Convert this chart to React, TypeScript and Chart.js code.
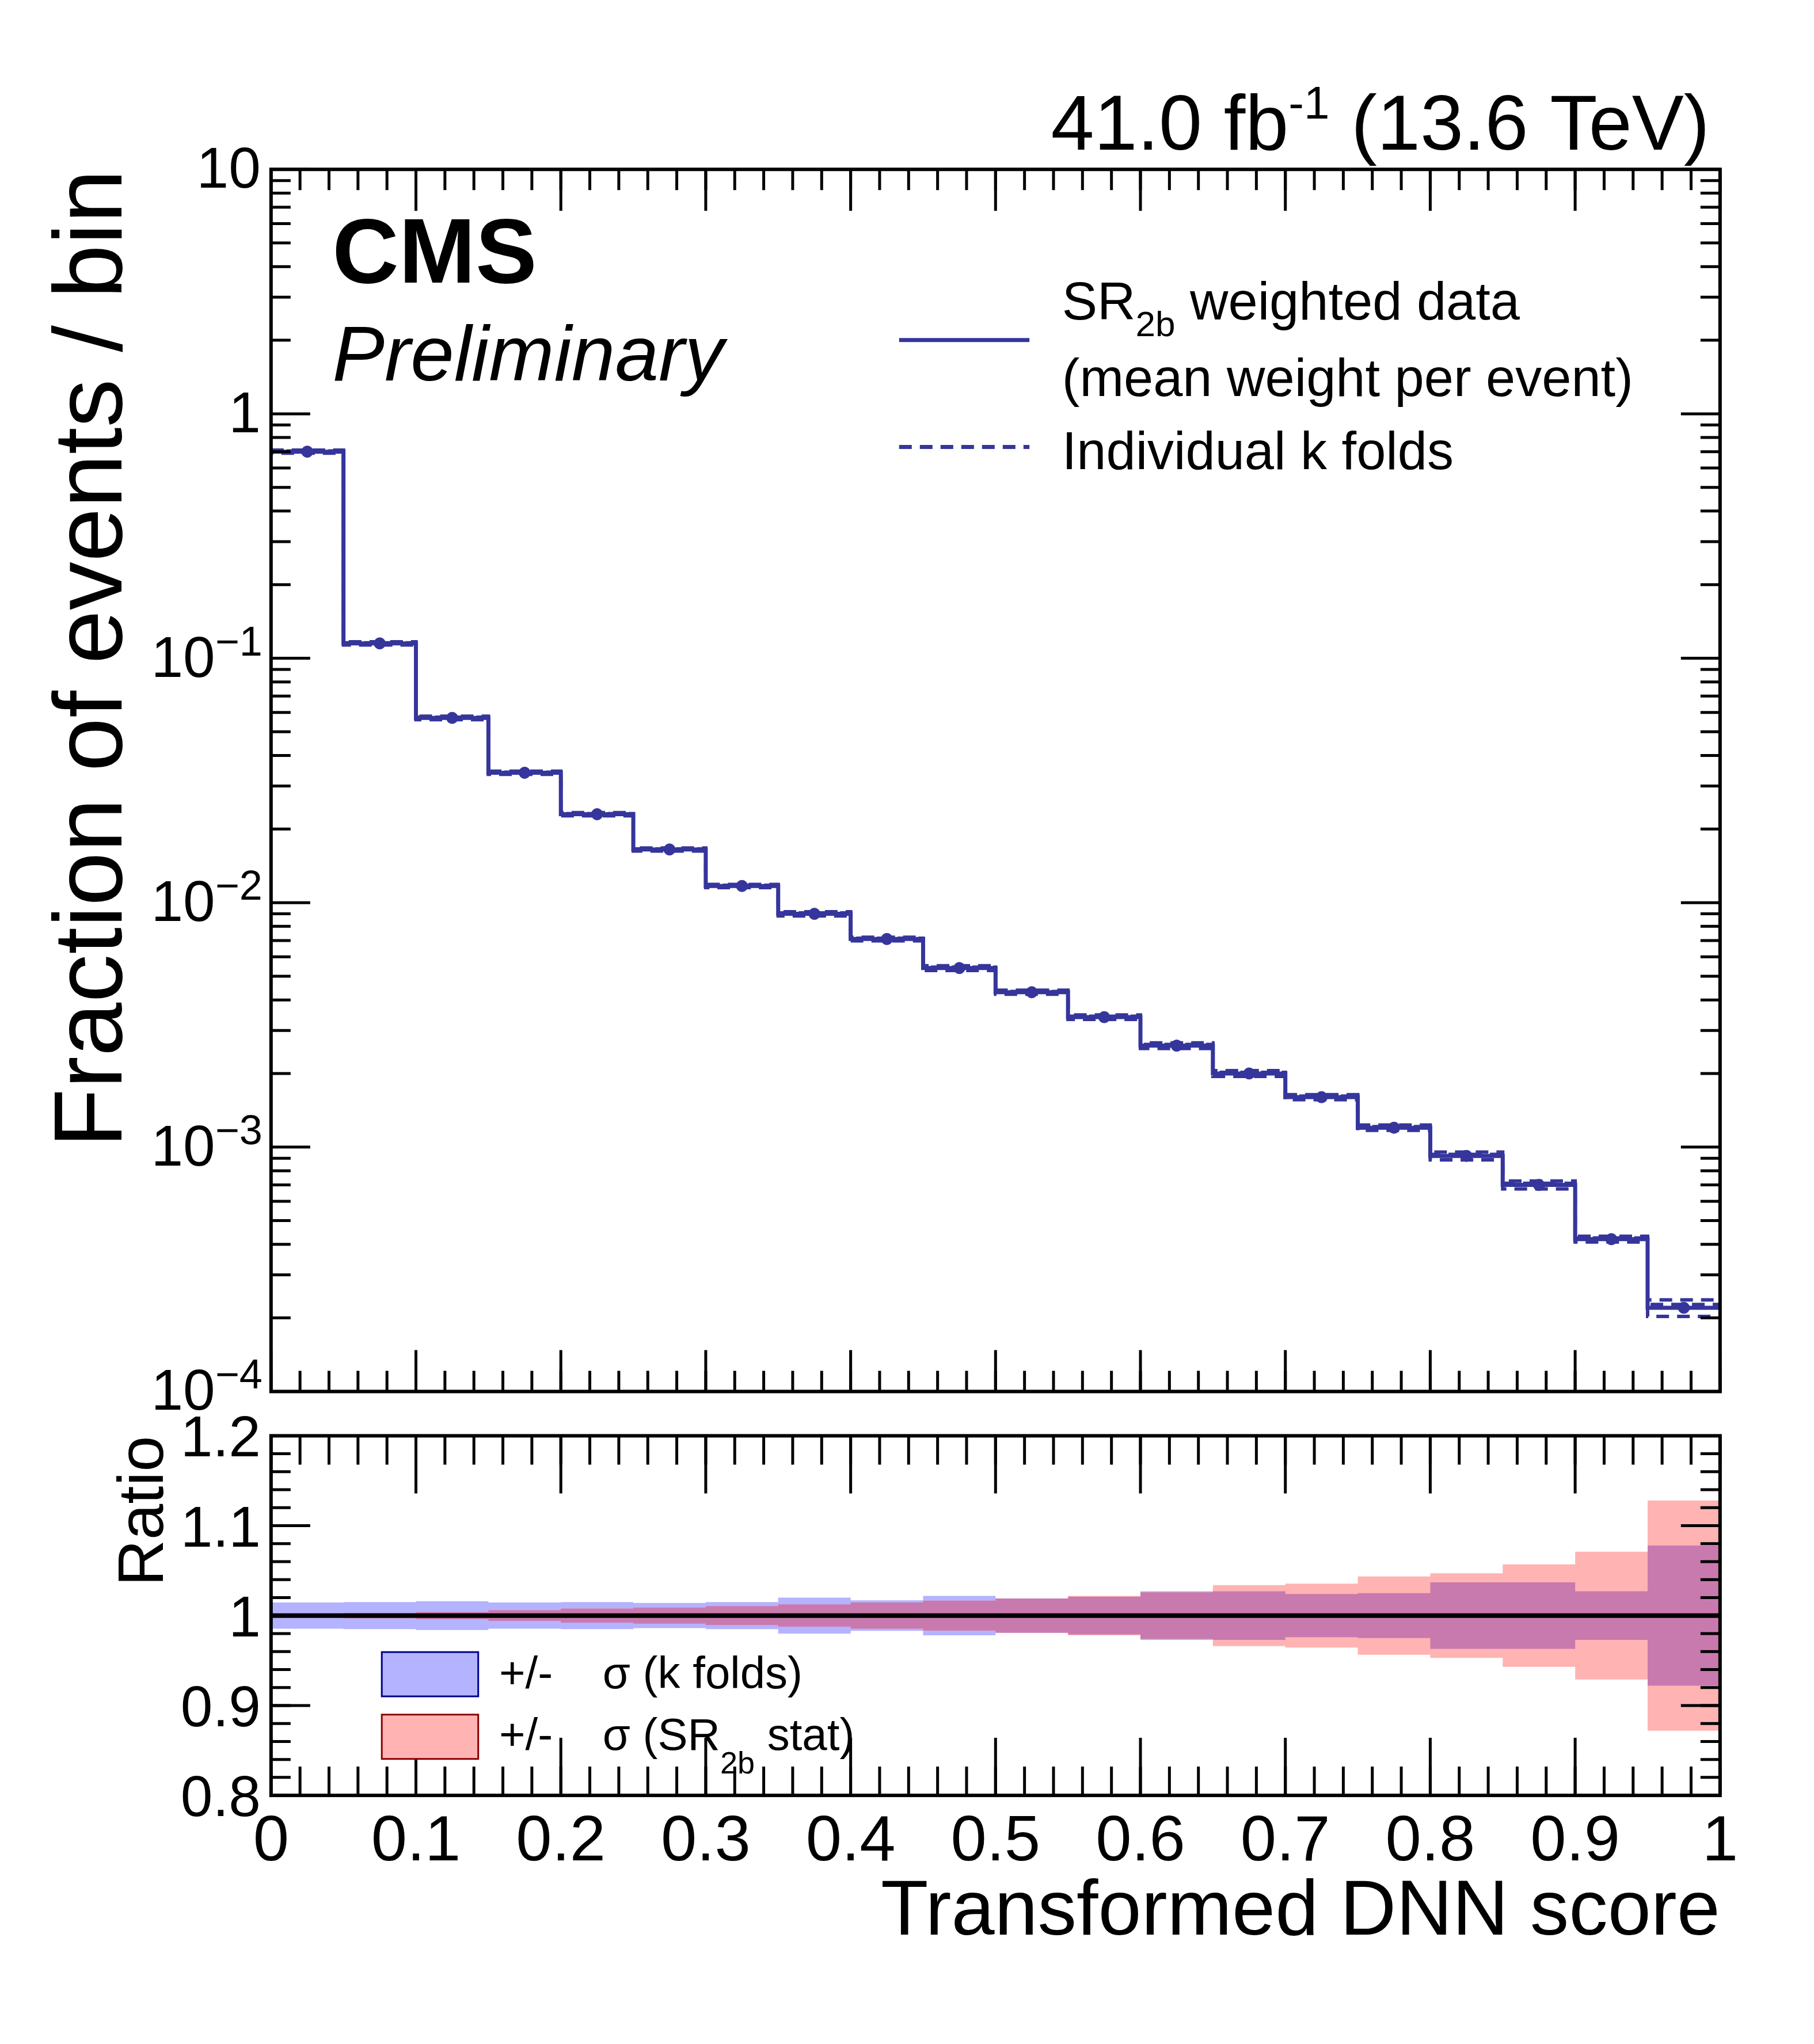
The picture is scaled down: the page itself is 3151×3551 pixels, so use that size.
import React, { useEffect, useRef } from "react";
import { Chart, registerables } from "chart.js";
Chart.register(...registerables);

const binEdges = [0,0.05,0.1,0.15,0.2,0.25,0.3,0.35,0.4,0.45,0.5,0.55,0.6,0.65,0.7,0.75,0.8,0.85,0.9,0.95,1];
const fractions = [0.7,0.115,0.057,0.034,0.023,0.0165,0.0117,0.009,0.0071,0.0054,0.0043,0.0034,0.0026,0.002,0.0016,0.0012,0.00092,0.0007,0.00042,0.00022];
const kfoldSigma = [0.0145,0.015,0.016,0.0145,0.015,0.014,0.015,0.02,0.017,0.022,0.019,0.021,0.027,0.027,0.024,0.025,0.037,0.037,0.027,0.078];
const statSigma = [0.002,0.003,0.004,0.006,0.0078,0.009,0.0106,0.0124,0.0145,0.0167,0.019,0.022,0.026,0.034,0.0355,0.0435,0.047,0.057,0.071,0.128];
const xTickLabels = ["0","0.1","0.2","0.3","0.4","0.5","0.6","0.7","0.8","0.9","1"];
const ratioTickLabels = ["0.8","0.9","1","1.1","1.2"];

const W = 3135, H = 3543;
const F = "'Liberation Sans', Arial, sans-serif";
const LINE = "#35359c";
const S = 2.2635;
const P = (d: number) => d * S - 8;
const Z = (d: number) => d * S;

function steps(vals: number[]) {
  const out: { x: number; y: number }[] = [];
  vals.forEach((v, i) => { out.push({ x: binEdges[i], y: v }); out.push({ x: binEdges[i + 1], y: v }); });
  return out;
}

function drawFrameTicks(chart: any, xMinors: number[], xMajors: number[], yMinors: number[], yMajors: number[], xMaj: number, yMaj: number) {
  const { ctx, chartArea: a, scales } = chart;
  ctx.save();
  ctx.strokeStyle = "#000";
  ctx.lineWidth = 5;
  const tick = (v: number, len: number, isX: boolean) => {
    if (isX) {
      const p = scales.x.getPixelForValue(v);
      ctx.beginPath(); ctx.moveTo(p, a.bottom); ctx.lineTo(p, a.bottom - len);
      ctx.moveTo(p, a.top); ctx.lineTo(p, a.top + len); ctx.stroke();
    } else {
      const p = scales.y.getPixelForValue(v);
      ctx.beginPath(); ctx.moveTo(a.left, p); ctx.lineTo(a.left + len, p);
      ctx.moveTo(a.right, p); ctx.lineTo(a.right - len, p); ctx.stroke();
    }
  };
  xMinors.forEach(v => tick(v, xMaj / 2, true));
  xMajors.forEach(v => tick(v, xMaj, true));
  yMinors.forEach(v => tick(v, yMaj / 2, false));
  yMajors.forEach(v => tick(v, yMaj, false));
  ctx.lineWidth = 6;
  ctx.strokeRect(a.left, a.top, a.right - a.left, a.bottom - a.top);
  ctx.restore();
}

function txt(ctx: any, s: string, x: number, y: number, size: number, align: string = "left", style = "") {
  ctx.font = `${style} ${size}px ${F}`;
  ctx.textAlign = align; ctx.textBaseline = "alphabetic"; ctx.fillStyle = "#000";
  ctx.fillText(s, x, y);
}

const xMajorVals = xTickLabels.map(Number);
const xMinorVals: number[] = [];
for (let i = 0; i <= 50; i++) xMinorVals.push(i / 50);

const mainPlugin = {
  id: "mainDeco",
  afterDraw(chart: any) {
    const { ctx, chartArea: a, scales } = chart;
    const majors = [1e-4, 1e-3, 1e-2, 1e-1, 1, 10];
    const minors: number[] = [];
    for (let d = -4; d < 1; d++) for (let m = 2; m <= 9; m++) minors.push(m * Math.pow(10, d));
    drawFrameTicks(chart, xMinorVals, xMajorVals, minors, majors, 72, 68);
    const exps = ["−4", "−3", "−2", "−1"];
    ctx.save();
    majors.forEach((v, i) => {
      const p = scales.y.getPixelForValue(v);
      if (i < 4) {
        ctx.font = `72px ${F}`;
        const sw = ctx.measureText(exps[i]).width;
        txt(ctx, exps[i], a.left - 15, p - 5, 72, "right");
        txt(ctx, "10", a.left - 15 - sw, p + 32, 100, "right");
      } else {
        txt(ctx, i === 4 ? "1" : "10", a.left - 18, p + 32, 100, "right");
      }
    });
    ctx.save();
    ctx.translate(P(93), a.top);
    ctx.rotate(-Math.PI / 2);
    txt(ctx, "Fraction of events / bin", 0, 0, 168, "right");
    ctx.restore();
    ctx.font = `135px ${F}`;
    const w2 = ctx.measureText(" (13.6 TeV)").width;
    const rx = P(1312);
    txt(ctx, " (13.6 TeV)", rx, P(115), 135, "right");
    ctx.font = `80px ${F}`;
    const w3 = ctx.measureText("-1").width;
    txt(ctx, "-1", rx - w2, P(91), 80, "right");
    txt(ctx, "41.0 fb", rx - w2 - w3, P(115), 135, "right");
    txt(ctx, "CMS", P(255), P(217), 160, "left", "bold");
    txt(ctx, "Preliminary", P(255), P(292), 136, "left", "italic");
    ctx.strokeStyle = LINE; ctx.lineWidth = 7;
    ctx.beginPath(); ctx.moveTo(P(690), P(261)); ctx.lineTo(P(790), P(261)); ctx.stroke();
    ctx.setLineDash([22, 14]);
    ctx.beginPath(); ctx.moveTo(P(690), P(343)); ctx.lineTo(P(790), P(343)); ctx.stroke();
    ctx.setLineDash([]);
    const tx = P(815);
    const fs = 92;
    ctx.font = `${fs}px ${F}`;
    const wsr = ctx.measureText("SR").width;
    txt(ctx, "SR", tx, P(245), fs);
    txt(ctx, "2b", tx + wsr, P(258), 62);
    ctx.font = `62px ${F}`;
    const w2b = ctx.measureText("2b").width;
    txt(ctx, " weighted data", tx + wsr + w2b, P(245), fs);
    txt(ctx, "(mean weight per event)", tx, P(304), fs);
    txt(ctx, "Individual k folds", tx, P(360), fs);
    ctx.restore();
  },
};

const ratioPlugin = {
  id: "ratioDeco",
  afterDraw(chart: any) {
    const { ctx, chartArea: a, scales } = chart;
    const rMaj = ratioTickLabels.map(Number);
    const rMin: number[] = [];
    for (let i = 0; i <= 20; i++) rMin.push(0.8 + i * 0.02);
    drawFrameTicks(chart, xMinorVals, xMajorVals, rMin, rMaj, 100, 68);
    ctx.save();
    rMaj.forEach((v, i) => {
      const p = scales.y.getPixelForValue(v);
      txt(ctx, ratioTickLabels[i], a.left - 18, p + 36, 100, "right");
    });
    xMajorVals.forEach((v, i) => {
      const p = scales.x.getPixelForValue(v);
      txt(ctx, xTickLabels[i], p, P(1428), 112, "center");
    });
    txt(ctx, "Transformed DNN score", a.right, P(1485), 135, "right");
    ctx.save();
    ctx.translate(P(125), a.top);
    ctx.rotate(-Math.PI / 2);
    txt(ctx, "Ratio", 0, 0, 112, "right");
    ctx.restore();
    const box = (y: number, fill: string, edge: string) => {
      ctx.fillStyle = fill; ctx.fillRect(P(293), P(y), Z(74), Z(34));
      ctx.strokeStyle = edge; ctx.lineWidth = 3; ctx.strokeRect(P(293), P(y), Z(74), Z(34));
    };
    box(1268, "#b3b3ff", "#00008b");
    box(1316, "#ffb3b3", "#8b0000");
    const lx = P(383);
    txt(ctx, "+/-    σ (k folds)", lx, P(1296), 78);
    ctx.font = `78px ${F}`;
    const wa = ctx.measureText("+/-    σ (SR").width;
    txt(ctx, "+/-    σ (SR", lx, P(1343), 78);
    txt(ctx, "2b", lx + wa, P(1361), 54);
    ctx.font = `54px ${F}`;
    const wb = ctx.measureText("2b").width;
    txt(ctx, " stat)", lx + wa + wb, P(1343), 78);
    ctx.restore();
  },
};

const minSigma = kfoldSigma.map((b, i) => Math.min(b, statSigma[i]));

export default function App() {
  const r1 = useRef<HTMLCanvasElement>(null);
  const r2 = useRef<HTMLCanvasElement>(null);
  useEffect(() => {
    const baseOpts = (top: number, bottom: number, yscale: any) => ({
      animation: false as const, responsive: false, devicePixelRatio: 1,
      layout: { padding: { left: P(208), right: W - P(1320), top: P(top), bottom: H - P(bottom) } },
      plugins: { legend: { display: false }, tooltip: { enabled: false } },
      scales: {
        x: { type: "linear" as const, min: 0, max: 1, display: false },
        y: { ...yscale, display: false },
      },
      elements: { point: { radius: 0 }, line: { tension: 0 } },
    });
    const ds = (data: any, color: string, extra: any = {}) => ({
      type: "line" as const, data, borderColor: color, borderWidth: 7, pointRadius: 0, fill: false, ...extra,
    });
    const main = new Chart(r1.current!, {
      type: "line",
      data: {
        datasets: [
          ds(steps(fractions), LINE, { order: 1 }),
          ds(steps(fractions.map((v, i) => v * (1 + kfoldSigma[i]))), LINE, { borderDash: [22, 14], borderWidth: 6, order: 2 }),
          ds(steps(fractions.map((v, i) => v * (1 - kfoldSigma[i]))), LINE, { borderDash: [22, 14], borderDashOffset: 18, borderWidth: 6, order: 2 }),
          ds(steps(fractions.map((v, i) => v * (1 + 0.4 * kfoldSigma[i]))), LINE, { borderDash: [22, 14], borderDashOffset: 9, borderWidth: 6, order: 2 }),
          { type: "scatter" as const, data: fractions.map((v, i) => ({ x: (binEdges[i] + binEdges[i + 1]) / 2, y: v })), pointRadius: 10, backgroundColor: LINE, borderColor: LINE, order: 0 },
        ],
      },
      options: baseOpts(130, 1068, { type: "logarithmic", min: 1e-4, max: 10 }) as any,
      plugins: [mainPlugin],
    });
    const band = (sig: number[], color: string, order: number) => [
      ds(steps(sig.map(s => 1 + s)), "rgba(0,0,0,0)", { borderWidth: 0, fill: "+1", backgroundColor: color, order }),
      ds(steps(sig.map(s => 1 - s)), "rgba(0,0,0,0)", { borderWidth: 0, order }),
    ];
    const ratio = new Chart(r2.current!, {
      type: "line",
      data: {
        datasets: [
          ...band(kfoldSigma, "#b3b3ff", 5),
          ...band(statSigma, "#ffb3b3", 4),
          ...band(minSigma, "#c87aae", 3),
          ds([{ x: 0, y: 1 }, { x: 1, y: 1 }], "#000", { borderWidth: 8, order: 1 }),
        ],
      },
      options: baseOpts(1102, 1378, { type: "linear", min: 0.8, max: 1.2 }) as any,
      plugins: [ratioPlugin],
    });
    return () => { main.destroy(); ratio.destroy(); };
  }, []);
  return (
    <div style={{ position: "relative", width: W, height: H, background: "#fff" }}>
      <canvas ref={r1} width={W} height={H} style={{ position: "absolute", left: 0, top: 0 }} />
      <canvas ref={r2} width={W} height={H} style={{ position: "absolute", left: 0, top: 0 }} />
    </div>
  );
}
